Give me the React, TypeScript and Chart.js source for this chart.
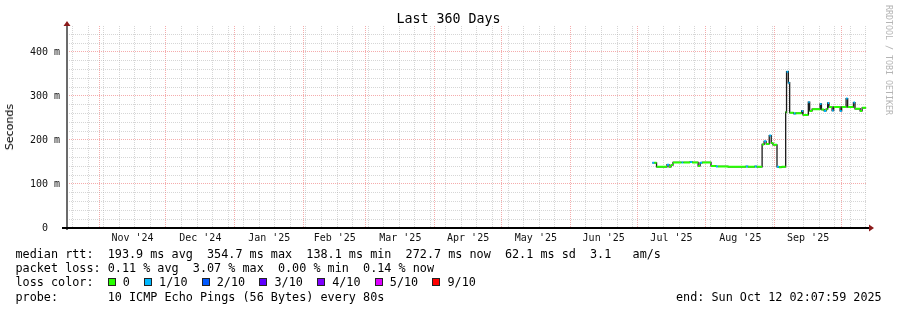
import React, { useEffect, useRef } from 'react';
import { Chart, registerables } from 'chart.js';

Chart.register(...registerables);

// ---------- text ----------
const TITLE = 'Last 360 Days';
const Y_AXIS_TITLE = 'Seconds';
const WATERMARK = 'RRDTOOL / TOBI OETIKER';
const statsLines = [
  'median rtt:  193.9 ms avg  354.7 ms max  138.1 ms min  272.7 ms now  62.1 ms sd  3.1   am/s',
  'packet loss: 0.11 % avg  3.07 % max  0.00 % min  0.14 % now',
];
const lossColorPrefix = 'loss color:  ';
const probeText = 'probe:       10 ICMP Echo Pings (56 Bytes) every 80s';
const endText = 'end: Sun Oct 12 02:07:59 2025';

// ---------- time range ----------
const RANGE_START = Date.UTC(2024, 9, 17, 12, 0, 0);
const RANGE_DAYS = 360;
const Y_MAX_SECONDS = 0.459;

// ---------- tick labels ----------
const monthStarts = [
  '2024-11-01', '2024-12-01', '2025-01-01', '2025-02-01', '2025-03-01', '2025-04-01',
  '2025-05-01', '2025-06-01', '2025-07-01', '2025-08-01', '2025-09-01', '2025-10-01',
];
const monthLabels = [
  "Nov '24", "Dec '24", "Jan '25", "Feb '25", "Mar '25", "Apr '25",
  "May '25", "Jun '25", "Jul '25", "Aug '25", "Sep '25",
];
const yTickMs = [0, 20, 40, 60, 80, 100, 120, 140, 160, 180, 200, 220, 240, 260, 280, 300, 320, 340, 360, 380, 400, 420, 440];
const yLabelledMs = [0, 100, 200, 300, 400];

// ---------- loss legend ----------
const lossLegendLabels = ['0', '1/10', '2/10', '3/10', '4/10', '5/10', '9/10'];
const lossLegendColors = ['#26ff00', '#00b8ff', '#0059ff', '#5e00ff', '#7e00ff', '#dd00ff', '#ff0000'];

// ---------- series (day offset from range start, median rtt in ms, loss level index) ----------
const sampleDays = [
  263.4, 264.3, 265.3, 270.0, 270.9, 271.8, 272.7, 276.5, 277.4, 280.4,
  281.3, 284.0, 284.9, 285.8, 289.8, 292.0, 292.9, 297.5, 305.5, 306.4,
  309.5, 310.4, 312.8, 313.7, 314.6, 316.0, 316.9, 317.7, 319.5, 320.4,
  321.6, 323.4, 323.8, 324.6, 325.2, 327.0, 327.9, 329.9, 330.6, 331.2,
  333.6, 334.2, 335.3, 338.9, 339.5, 340.7, 341.6, 342.3, 342.9, 344.3,
  345.0, 347.9, 348.6, 350.6, 351.3, 353.9, 354.6, 356.9, 357.8,
];
const medianMs = [
  148, 148, 139, 144, 139, 143, 149, 149, 149, 150,
  149, 141, 148, 149, 141, 140, 140, 139, 140, 139,
  140, 139, 190, 197, 191, 210, 193, 189, 139, 138,
  139, 263, 355, 330, 262, 260, 261, 261, 266, 257,
  286, 266, 270, 282, 269, 266, 270, 284, 275, 267,
  275, 266, 275, 294, 275, 285, 271, 266, 273,
];
const lossLevel = [
  1, 0, 0, 1, 0, 0, 0, 1, 0, 1,
  0, 0, 1, 0, 0, 1, 0, 0, 1, 0,
  1, 0, 0, 1, 0, 1, 0, 0, 1, 0,
  0, 0, 1, 1, 0, 1, 0, 0, 1, 0,
  1, 0, 0, 1, 0, 1, 0, 1, 0, 1,
  0, 1, 0, 1, 0, 1, 0, 0, 0,
];
const DATA_END_DAY = 359.6;

// ---------- derived tables ----------
const DAY_MS = 86400000;
const dayOf = (iso: string) => (Date.parse(iso + 'T00:00:00Z') - RANGE_START) / DAY_MS;

type XTick = { value: number; label: string; kind: 'week' | 'month' | 'label' };

function buildXTicks(): XTick[] {
  const out: XTick[] = [];
  const monthDays = monthStarts.map(dayOf);
  monthDays.forEach((d) => {
    if (d >= 0 && d <= RANGE_DAYS) out.push({ value: d, label: '', kind: 'month' });
  });
  // weekly (Sunday 00:00 UTC)
  const s = new Date(RANGE_START);
  let t = Date.UTC(s.getUTCFullYear(), s.getUTCMonth(), s.getUTCDate() + 1);
  while (new Date(t).getUTCDay() !== 0) t += DAY_MS;
  for (; ; t += 7 * DAY_MS) {
    const d = (t - RANGE_START) / DAY_MS;
    if (d > RANGE_DAYS) break;
    if (monthDays.some((m) => Math.abs(m - d) < 0.01)) continue;
    out.push({ value: d, label: '', kind: 'week' });
  }
  monthLabels.forEach((lab, i) => {
    const mid = (monthDays[i] + monthDays[i + 1]) / 2;
    if (mid >= 0 && mid <= RANGE_DAYS) out.push({ value: mid, label: lab, kind: 'label' });
  });
  out.sort((a, b) => a.value - b.value);
  return out;
}

const xTicks = buildXTicks();

function buildDatasets() {
  const stepData = sampleDays.map((d, i) => ({ x: d, y: medianMs[i] / 1000 }));
  stepData.push({ x: DATA_END_DAY, y: medianMs[medianMs.length - 1] / 1000 });
  const sets: any[] = [];
  const levels = Array.from(new Set(lossLevel)).sort();
  levels.forEach((lvl) => {
    const data: any[] = [];
    sampleDays.forEach((d, i) => {
      if (lossLevel[i] !== lvl) return;
      const next = i + 1 < sampleDays.length ? sampleDays[i + 1] : DATA_END_DAY;
      data.push({ x: d, y: medianMs[i] / 1000 });
      data.push({ x: next, y: medianMs[i] / 1000 });
      data.push({ x: next, y: null });
    });
    sets.push({
      label: 'loss ' + lossLegendLabels[lvl],
      data,
      borderColor: lossLegendColors[lvl],
      backgroundColor: lossLegendColors[lvl],
      borderWidth: 2,
      borderCapStyle: 'butt',
      pointRadius: 0,
      spanGaps: false,
      order: 1,
    });
  });
  sets.push({
    label: 'median',
    data: stepData,
    stepped: true,
    borderColor: '#1c1c1c',
    borderWidth: 1.3,
    pointRadius: 0,
    order: 5,
  });
  return sets;
}

const axisDecor = {
  id: 'axisDecor',
  afterDatasetsDraw(chart: any) {
    const { ctx, chartArea: a } = chart;
    ctx.save();
    ctx.fillStyle = '#6b6b6b';
    ctx.fillRect(a.left - 1, a.top - 2, 2, a.bottom - a.top + 4);
    ctx.fillStyle = '#000';
    ctx.fillRect(a.left - 5, a.bottom - 1, a.right - a.left + 7, 2);
    ctx.fillStyle = '#8b1a1a';
    ctx.beginPath();
    ctx.moveTo(a.left, a.top - 5);
    ctx.lineTo(a.left - 3.5, a.top);
    ctx.lineTo(a.left + 3.5, a.top);
    ctx.closePath();
    ctx.fill();
    ctx.beginPath();
    ctx.moveTo(a.right + 7, a.bottom);
    ctx.lineTo(a.right + 2, a.bottom - 3.5);
    ctx.lineTo(a.right + 2, a.bottom + 3.5);
    ctx.closePath();
    ctx.fill();
    ctx.restore();
  },
};

const MONO = "'DejaVu Sans Mono', monospace";
const MAJOR_GRID = 'rgba(235, 90, 90, 0.5)';
const MINOR_GRID = 'rgba(165, 165, 165, 0.45)';

export default function App() {
  const ref = useRef<HTMLCanvasElement>(null);

  useEffect(() => {
    const chart = new Chart(ref.current as HTMLCanvasElement, {
      type: 'line',
      data: { datasets: buildDatasets() },
      options: {
        animation: false,
        responsive: false,
        maintainAspectRatio: false,
        events: [],
        layout: { padding: { top: 26, right: 30, bottom: 62, left: 0 } },
        plugins: {
          legend: { display: false },
          tooltip: { enabled: false },
          title: { display: false },
        },
        scales: {
          x: {
            type: 'linear',
            min: 0,
            max: RANGE_DAYS,
            afterBuildTicks: (scale: any) => {
              scale.ticks = xTicks.map((t) => ({ value: t.value }));
            },
            afterFit: (scale: any) => {
              scale.height = 20;
            },
            ticks: {
              autoSkip: false,
              maxRotation: 0,
              minRotation: 0,
              padding: 4,
              color: '#111',
              font: { family: MONO, size: 10 },
              callback: (_v: any, i: number) => xTicks[i].label,
            },
            grid: {
              drawTicks: false,
              lineWidth: 1,
              color: (ctx: any) => {
                const t = xTicks[ctx.index];
                if (!t || t.kind === 'label') return 'rgba(0,0,0,0)';
                return t.kind === 'month' ? MAJOR_GRID : MINOR_GRID;
              },
            },
            border: { display: false, dash: [1, 1] },
          },
          y: {
            type: 'linear',
            min: 0,
            max: Y_MAX_SECONDS,
            afterBuildTicks: (scale: any) => {
              scale.ticks = yTickMs.map((ms) => ({ value: ms / 1000 }));
            },
            afterFit: (scale: any) => {
              scale.width = 67;
            },
            ticks: {
              autoSkip: false,
              padding: 7,
              color: '#111',
              font: { family: MONO, size: 10 },
              callback: (_v: any, i: number) => {
                const ms = yTickMs[i];
                if (!yLabelledMs.includes(ms)) return '';
                return ms === 0 ? '0  ' : `${ms} m`;
              },
            },
            grid: {
              drawTicks: false,
              lineWidth: 1,
              color: (ctx: any) => {
                const ms = yTickMs[ctx.index];
                if (ms === 0) return 'rgba(0,0,0,0)';
                return ms % 100 === 0 ? MAJOR_GRID : MINOR_GRID;
              },
            },
            border: { display: false, dash: [1, 1] },
          },
        },
      },
      plugins: [axisDecor],
    } as any);
    return () => chart.destroy();
  }, []);

  const legendFont = `11.79px ${MONO}`;
  const lineH = 14.3;
  const legendTop = 246.8;

  return (
    <div
      style={{
        position: 'absolute',
        left: 0,
        top: 0,
        width: 897,
        height: 310,
        background: '#fff',
        overflow: 'hidden',
        color: '#000',
      }}
    >
      <canvas
        ref={ref}
        width={897}
        height={310}
        style={{ position: 'absolute', left: 0, top: 0, width: 897, height: 310 }}
      />
      <div
        style={{
          position: 'absolute',
          left: 0,
          top: 11,
          width: 897,
          textAlign: 'center',
          font: `13.3px ${MONO}`,
          lineHeight: '16px',
          whiteSpace: 'pre',
        }}
      >
        {TITLE}
      </div>
      <div
        style={{
          position: 'absolute',
          left: 3,
          top: 104,
          writingMode: 'vertical-rl',
          transform: 'rotate(180deg)',
          font: "11px 'DejaVu Sans', sans-serif",
          lineHeight: '13px',
          whiteSpace: 'nowrap',
          color: '#000',
        }}
      >
        {Y_AXIS_TITLE}
      </div>
      <div
        style={{
          position: 'absolute',
          left: 884,
          top: 5,
          writingMode: 'vertical-rl',
          font: `8.3px ${MONO}`,
          lineHeight: '9px',
          color: '#b4b4b4',
          whiteSpace: 'nowrap',
        }}
      >
        {WATERMARK}
      </div>
      <div
        style={{
          position: 'absolute',
          left: 15.5,
          top: legendTop,
          font: legendFont,
          lineHeight: `${lineH}px`,
          whiteSpace: 'pre',
        }}
      >
        {statsLines.map((l, i) => (
          <div key={i}>{l}</div>
        ))}
        <div>
          {lossColorPrefix}
          {lossLegendLabels.map((lab, i) => (
            <span key={lab}>
              <span
                style={{
                  display: 'inline-block',
                  width: 6,
                  height: 6,
                  border: '1px solid #222',
                  background: lossLegendColors[i],
                  marginLeft: i === 0 ? 0 : 14.3,
                  verticalAlign: 'baseline',
                }}
              />
              <span style={{ marginLeft: 7 }}>{lab}</span>
            </span>
          ))}
        </div>
        <div>{probeText}</div>
      </div>
      <div
        style={{
          position: 'absolute',
          left: 676,
          top: legendTop + 3 * lineH,
          font: legendFont,
          lineHeight: `${lineH}px`,
          whiteSpace: 'pre',
        }}
      >
        {endText}
      </div>
    </div>
  );
}
